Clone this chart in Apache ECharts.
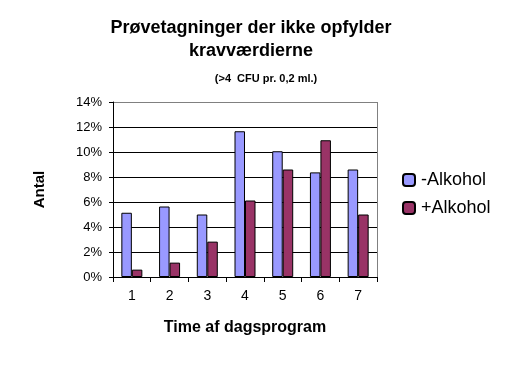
<!DOCTYPE html>
<html><head><meta charset="utf-8">
<script src="https://cdn.jsdelivr.net/npm/echarts@6/dist/echarts.min.js"></script>
<style>html,body{margin:0;padding:0;background:#fff}#c{width:514px;height:382px}</style>
</head><body><div id="c"></div>
<script>
const categories = ['1','2','3','4','5','6','7'];
const minusAlkohol = [5.14, 5.64, 5.0, 11.66, 10.06, 8.37, 8.6];
const plusAlkohol = [0.59, 1.15, 2.83, 6.12, 8.6, 10.94, 5.0];
const seriesNames = ['-Alkohol', '+Alkohol'];
const chart = echarts.init(document.getElementById('c'));
const font = 'Arial, "Liberation Sans", sans-serif';
chart.setOption({
  animation: false,
  backgroundColor: '#fff',
  title: [
    {text: 'Prøvetagninger der ikke opfylder\nkravværdierne', left: 246, top: 12, textAlign: 'center',
     textStyle: {fontFamily: font, fontSize: 18, fontWeight: 'bold', color: '#000', lineHeight: 23}},
    {text: '(>4  CFU pr. 0,2 ml.)', left: 261, top: 68, textAlign: 'center',
     textStyle: {fontFamily: font, fontSize: 11, fontWeight: 'bold', color: '#000'}}
  ],
  legend: {
    orient: 'vertical', left: 397, top: 166, itemWidth: 12, itemHeight: 12, itemGap: 10,
    textStyle: {fontFamily: font, fontSize: 18, lineHeight: 18, color: '#000', padding: [0, 0, 0, 1]},
    data: seriesNames
  },
  grid: {left: 113, right: 137, top: 102, bottom: 105},
  xAxis: {
    type: 'category', data: categories,
    name: 'Time af dagsprogram', nameLocation: 'middle', nameGap: 43,
    nameTextStyle: {fontFamily: font, fontSize: 16, fontWeight: 'bold', color: '#000'},
    axisLine: {lineStyle: {color: '#000'}},
    axisTick: {show: true, length: 5, lineStyle: {color: '#000'}},
    axisLabel: {fontFamily: font, fontSize: 14, color: '#000', margin: 12}
  },
  yAxis: {
    type: 'value', min: 0, max: 14, interval: 2,
    name: 'Antal', nameLocation: 'middle', nameGap: 66, nameRotate: 90,
    nameTextStyle: {fontFamily: font, fontSize: 15, fontWeight: 'bold', color: '#000'},
    axisLine: {show: true, lineStyle: {color: '#000'}},
    axisTick: {show: true, length: 4, lineStyle: {color: '#000'}},
    axisLabel: {fontFamily: font, fontSize: 13, color: '#000', formatter: v => v + '%', margin: 11},
    splitLine: {lineStyle: {color: ['#000','#000','#000','#000','#000','#000','#000','#808080']}}
  },
  series: [
    {name: seriesNames[0], type: 'bar', data: minusAlkohol, barWidth: 10.5, barGap: '0%',
     itemStyle: {color: '#9999FF', borderColor: '#000', borderWidth: 1}},
    {name: seriesNames[1], type: 'bar', data: plusAlkohol, barWidth: 10.5,
     itemStyle: {color: '#993366', borderColor: '#000', borderWidth: 1}}
  ],
  graphic: [
    {type: 'line', shape: {x1: 377.5, y1: 102, x2: 377.5, y2: 277}, style: {stroke: '#808080', lineWidth: 1}}
  ]
});
</script></body></html>
